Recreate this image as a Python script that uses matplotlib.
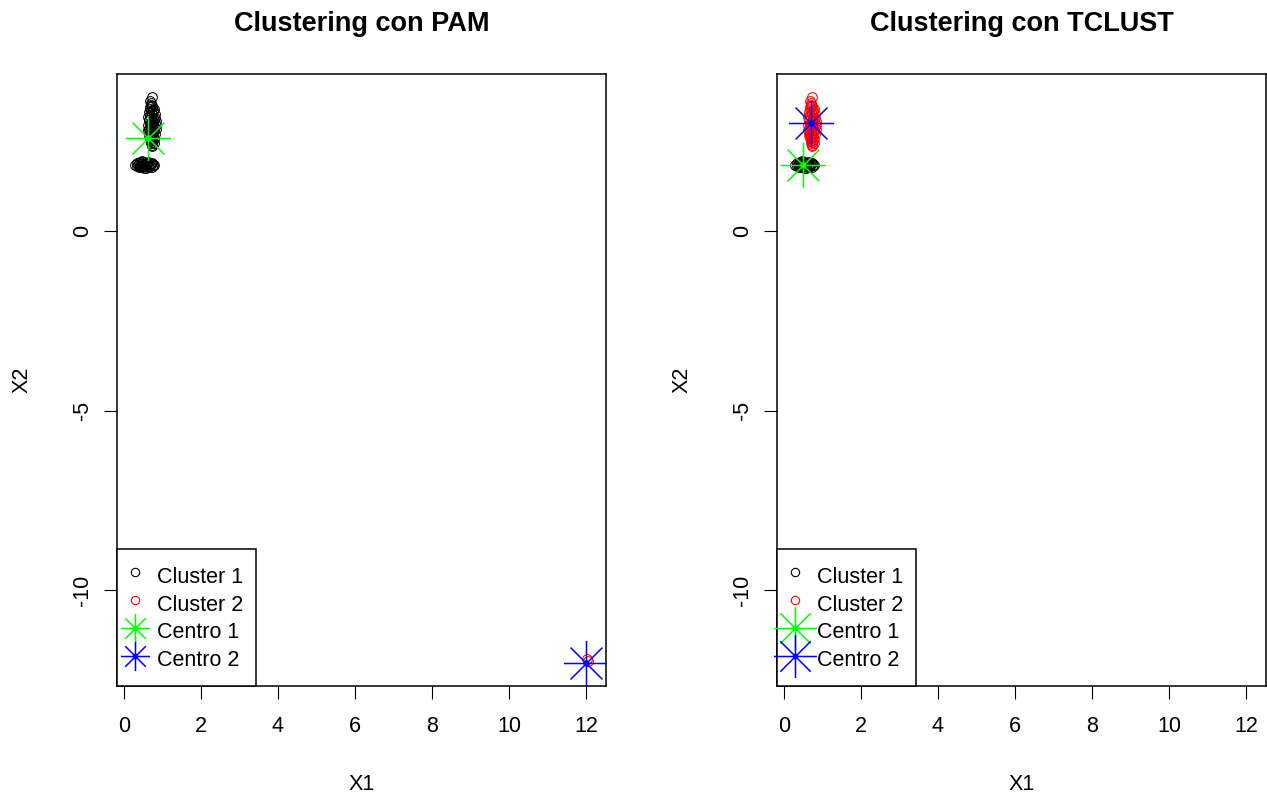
import numpy as np
import matplotlib
matplotlib.use("Agg")
import matplotlib.pyplot as plt
from matplotlib.path import Path
from matplotlib.lines import Line2D

plt.rcParams['font.family'] = ['Liberation Sans', 'DejaVu Sans']

# ---------------- data ----------------
upper_x = [0.72, 0.70, 0.74, 0.68, 0.76, 0.71, 0.73, 0.69, 0.75, 0.66,
           0.78, 0.72, 0.70, 0.74, 0.67, 0.77, 0.71, 0.73, 0.65, 0.79,
           0.72, 0.69, 0.75, 0.70, 0.74, 0.68, 0.76, 0.71, 0.73, 0.72,
           0.70, 0.74, 0.71, 0.73, 0.72, 0.69, 0.75, 0.72,
           0.62, 0.64, 0.63, 0.82, 0.84, 0.81, 0.66, 0.80, 0.63, 0.83,
           0.67, 0.79, 0.68, 0.78, 0.70, 0.76, 0.74, 0.64, 0.81, 0.77]
upper_y = [3.72, 3.55, 3.48, 3.40, 3.35, 3.30, 3.25, 3.20, 3.15, 3.10,
           3.08, 3.05, 3.00, 2.98, 2.95, 2.92, 2.90, 2.88, 2.85, 2.82,
           2.80, 2.78, 2.75, 2.72, 2.70, 2.68, 2.65, 2.62, 2.60, 2.55,
           2.50, 2.48, 2.45, 2.40, 2.36, 3.62, 3.02, 2.93,
           2.95, 3.10, 2.80, 3.05, 2.85, 3.25, 3.30, 2.70, 3.18, 2.95,
           2.60, 3.40, 3.45, 2.55, 3.50, 3.38, 2.52, 2.68, 3.15, 2.45]
lower_x = [0.30, 0.35, 0.40, 0.45, 0.50, 0.55, 0.60, 0.65, 0.70, 0.75,
           0.78, 0.33, 0.38, 0.43, 0.48, 0.53, 0.58, 0.63, 0.68, 0.73,
           0.36, 0.42, 0.47, 0.52, 0.57, 0.62, 0.67, 0.72, 0.44, 0.50,
           0.56, 0.61]
lower_y = [1.84, 1.80, 1.88, 1.78, 1.92, 1.82, 1.86, 1.79, 1.90, 1.83,
           1.85, 1.88, 1.77, 1.93, 1.81, 1.87, 1.76, 1.91, 1.80, 1.88,
           1.84, 1.80, 1.94, 1.76, 1.90, 1.82, 1.86, 1.78, 1.86, 1.84,
           1.80, 1.89]
outlier_x = [12.03, 12.05]
outlier_y = [-11.92, -11.96]

pam_center_x = [0.62, 12.00]
pam_center_y = [2.59, -12.03]
tclust_center_x = [0.50, 0.71]
tclust_center_y = [1.84, 3.00]

titles = ["Clustering con PAM", "Clustering con TCLUST"]
legend_labels = ["Cluster 1", "Cluster 2", "Centro 1", "Centro 2"]
xticks = [0, 2, 4, 6, 8, 10, 12]
yticks = [-10, -5, 0]
xlim = (-0.18, 12.52)
ylim = (-12.67, 4.37)

# ---------------- style ----------------
BASE = 15.5
a = np.sqrt(0.5)
ast_path = Path([(-1, 0), (1, 0), (0, -1), (0, 1), (-a, -a), (a, a), (-a, a), (a, -a)],
                [Path.MOVETO, Path.LINETO] * 4)
GREEN, BLUE, RED = '#00FF00', '#0000FF', '#FF0000'

fig = plt.figure(figsize=(12.67, 7.96), dpi=100)
W, H = 1267, 796
axL = fig.add_axes([117 / W, (H - 686) / H, 489 / W, 612 / H])
axR = fig.add_axes([777 / W, (H - 686) / H, 489 / W, 612 / H])


def circles(ax, x, y, color):
    ax.plot(x, y, ls='none', marker='o', ms=7, mfc='none', mec=color, mew=0.75, zorder=2)


def center(ax, x, y, color):
    ax.plot(x, y, ls='none', marker=ast_path, ms=32.5, mfc='none', mec=color, mew=1.1, zorder=4)
    ax.plot(x, y, ls='none', marker='o', ms=3.5, mfc=color, mec=color, zorder=4)


# PAM panel
circles(axL, upper_x + lower_x, upper_y + lower_y, 'black')
circles(axL, outlier_x, outlier_y, RED)
center(axL, [pam_center_x[0]], [pam_center_y[0]], GREEN)
center(axL, [pam_center_x[1]], [pam_center_y[1]], BLUE)

# TCLUST panel
circles(axR, lower_x, lower_y, 'black')
circles(axR, upper_x, upper_y, RED)
center(axR, [tclust_center_x[0]], [tclust_center_y[0]], GREEN)
center(axR, [tclust_center_x[1]], [tclust_center_y[1]], BLUE)

for ax, title, ast_ms in [(axL, titles[0], 21), (axR, titles[1], 31)]:
    ax.set_xlim(*xlim)
    ax.set_ylim(*ylim)
    ax.set_xticks(xticks)
    ax.set_yticks(yticks)
    ax.set_yticklabels([str(v) for v in yticks], rotation=90, va='center')
    ax.tick_params(direction='out', length=9.4, width=0.8, labelsize=BASE)
    ax.tick_params(axis='x', pad=12)
    ax.tick_params(axis='y', pad=8)
    for s in ax.spines.values():
        s.set_linewidth(1.1)
    ax.set_xlabel("X1", fontsize=BASE, va='center')
    ax.set_ylabel("X2", fontsize=BASE, va='center')
    ax.xaxis.set_label_coords(0.5, (686 - 785) / 612)
    ax.yaxis.set_label_coords((22 - 117) / 489, 0.5)
    ax.set_title(title, fontsize=19.5, fontweight='bold', y=1 + 50 / 612, va='center', pad=0)

    h1 = Line2D([], [], ls='none', marker='o', ms=6, mfc='none', mec='black', mew=0.8)
    h2 = Line2D([], [], ls='none', marker='o', ms=6, mfc='none', mec=RED, mew=0.8)
    h3a = Line2D([], [], ls='none', marker=ast_path, ms=ast_ms, mfc='none', mec=GREEN, mew=1.1)
    h3b = Line2D([], [], ls='none', marker='o', ms=3, mfc=GREEN, mec=GREEN)
    h4a = Line2D([], [], ls='none', marker=ast_path, ms=ast_ms, mfc='none', mec=BLUE, mew=1.1)
    h4b = Line2D([], [], ls='none', marker='o', ms=3, mfc=BLUE, mec=BLUE)
    leg = ax.legend([h1, h2, (h3a, h3b), (h4a, h4b)], legend_labels,
                    loc='lower left', bbox_to_anchor=(0, 0), borderaxespad=0,
                    fontsize=BASE, frameon=True, fancybox=False, framealpha=1,
                    edgecolor='black', borderpad=0.6, labelspacing=0.0,
                    handlelength=0.47, handleheight=1.61, handletextpad=0.79,
                    numpoints=1)
    leg.get_frame().set_linewidth(1.1)
    leg.set_zorder(5)

fig.savefig("out.png", dpi=100)
